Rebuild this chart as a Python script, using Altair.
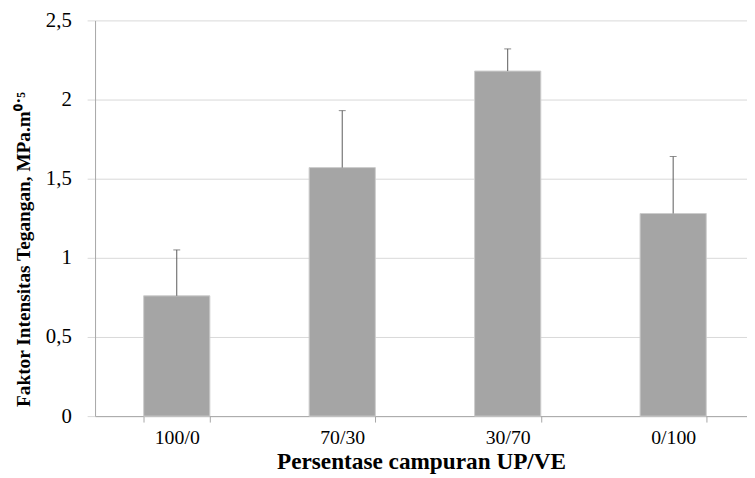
import altair as alt
import pandas as pd

categories = ["100/0", "70/30", "30/70", "0/100"]
values = [0.76, 1.57, 2.18, 1.28]
errors = [0.29, 0.36, 0.14, 0.36]
y_ticks = [0, 0.5, 1, 1.5, 2, 2.5]

df = pd.DataFrame({"cat": categories, "val": values, "err": errors})
df["upper"] = df["val"] + df["err"]

FONT = "Times New Roman, Liberation Serif, serif"

x_enc = alt.X(
    "cat:N",
    sort=categories,
    scale=alt.Scale(paddingInner=0.6, paddingOuter=0.27, align=0.544),
    axis=alt.Axis(
        title="Persentase campuran UP/VE",
        labelAngle=0,
        tickBand="extent",
        tickSize=6,
        tickColor="#a6a6a6",
        domainColor="#a6a6a6",
        labelFont=FONT,
        labelFontSize=20,
        labelColor="black",
        labelPadding=6,
        titleFont=FONT,
        titleFontSize=23.5,
        titleFontWeight="bold",
        titleColor="black",
        titlePadding=2,
        grid=False,
    ),
)

y_axis = alt.Axis(
    title="Faktor Intensitas Tegangan, MPa.m⁰˙⁵",
    values=y_ticks,
    labelExpr="replace(toString(datum.value), '.', ',')",
    tickSize=8,
    tickColor="#d9d9d9",
    gridColor="#d9d9d9",
    domainColor="#a6a6a6",
    labelFont=FONT,
    labelFontSize=21,
    labelColor="black",
    labelPadding=16,
    titleFont=FONT,
    titleFontSize=19.5,
    titleFontWeight="bold",
    titleColor="black",
    titleX=-62,
    titleY=231,
)

y_scale = alt.Scale(domain=[0, 2.5], nice=False)

bars = alt.Chart(df).mark_bar(color="#a5a5a5", stroke="#cccccc", strokeWidth=1).encode(
    x=x_enc,
    y=alt.Y("val:Q", scale=y_scale, axis=y_axis),
)

rules = alt.Chart(df).mark_rule(color="#5a5a5a", strokeWidth=1).encode(
    x=alt.X("cat:N", sort=categories),
    y=alt.Y("val:Q"),
    y2="upper:Q",
)

caps = alt.Chart(df).mark_tick(color="#5a5a5a", size=7, thickness=1).encode(
    x=alt.X("cat:N", sort=categories),
    y=alt.Y("upper:Q"),
)

chart = (
    alt.layer(bars, rules, caps)
    .properties(
        width=659,
        height=400,
        autosize=alt.AutoSizeParams(type="none"),
        padding={"left": 88, "top": 10, "right": 0, "bottom": 60},
        background="white",
    )
    .configure_view(strokeWidth=0)
    .configure_axis(labelFont=FONT, titleFont=FONT)
)

chart.save("out.html", embed_options={"renderer": "svg", "actions": False})
